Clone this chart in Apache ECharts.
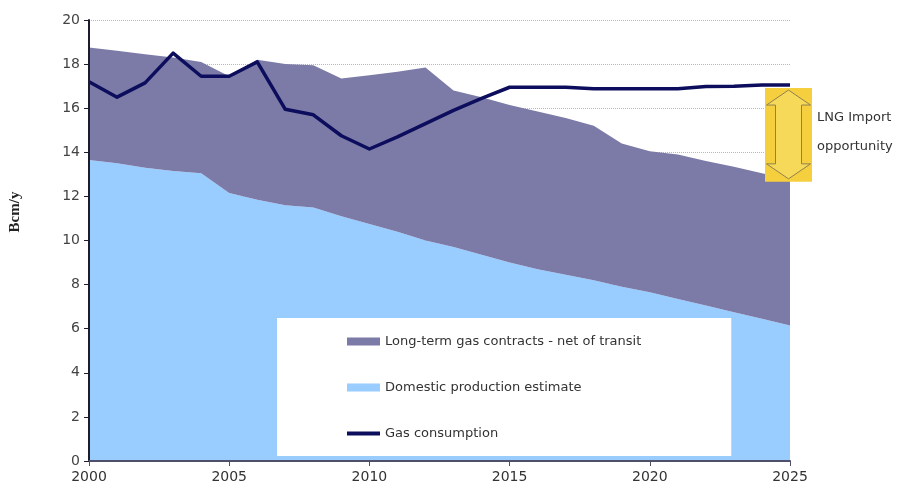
<!DOCTYPE html>
<html>
<head>
<meta charset="utf-8">
<style>
  html, body { margin: 0; padding: 0; background: #fff; }
  #chart { width: 898px; height: 498px; }
</style>
<script src="https://cdn.jsdelivr.net/npm/echarts@6/dist/echarts.min.js"></script>
</head>
<body>
<div id="chart"></div>
<script>
// Gas balance, Bcm per year
const years = ['2000', '2001', '2002', '2003', '2004', '2005', '2006', '2007', '2008', '2009', '2010', '2011', '2012',
               '2013', '2014', '2015', '2016', '2017', '2018', '2019', '2020', '2021', '2022', '2023', '2024', '2025'];

const domesticProduction = [13.65, 13.5, 13.3, 13.15, 13.05, 12.15, 11.85, 11.6, 11.5, 11.1, 10.75, 10.4, 10.0,
                            9.7, 9.35, 9.0, 8.7, 8.45, 8.2, 7.9, 7.65, 7.35, 7.05, 6.75, 6.45, 6.15];

// contracted volumes sitting on top of domestic production
const longTermContracts = [5.1, 5.1, 5.15, 5.15, 5.05, 5.3, 6.35, 6.4, 6.45, 6.25, 6.75, 7.25, 7.85,
                           7.1, 7.15, 7.15, 7.15, 7.1, 7.0, 6.5, 6.4, 6.55, 6.55, 6.6, 6.6, 6.6];

const gasConsumption = [17.2, 16.5, 17.15, 18.5, 17.45, 17.45, 18.1, 15.95, 15.7, 14.75, 14.15, 14.7, 15.3,
                        15.9, 16.45, 16.95, 16.95, 16.95, 16.88, 16.88, 16.88, 16.88, 16.98, 17.0, 17.05, 17.05];

const yearsPerTick = 5;
const yTickStep = 2;
const yMax = 20;

const seriesNames = {
  contracts: 'Long-term gas contracts - net of transit',
  domestic: 'Domestic production estimate',
  consumption: 'Gas consumption'
};

const colors = {
  contracts: '#7C7BA7',
  domestic: '#99CCFF',
  consumption: '#0D0D5E',
  lng: '#F5CF3E'
};

const chart = echarts.init(document.getElementById('chart'), null, { renderer: 'canvas' });

const baseFont = 'DejaVu Sans';
const axisDark = '#1c1c2c';

const valueAxisBase = {
  type: 'value',
  min: 0,
  max: yMax,
  interval: yTickStep
};

chart.setOption({
  animation: false,
  backgroundColor: '#fff',
  grid: { left: 89, right: 108, top: 20, bottom: 37, containLabel: false },
  xAxis: {
    type: 'category',
    data: years,
    boundaryGap: false,
    z: 10,
    axisLine: { show: true, lineStyle: { color: '#4d5068', width: 2 } },
    axisTick: { show: true, inside: false, length: 5, interval: yearsPerTick - 1, lineStyle: { color: '#4d5068', width: 1 } },
    axisLabel: {
      interval: yearsPerTick - 1,
      margin: 9,
      color: '#333',
      fontFamily: baseFont,
      fontSize: 14
    },
    splitLine: { show: false }
  },
  yAxis: [
    // grid lines sit beneath the filled areas
    Object.assign({}, valueAxisBase, {
      position: 'left',
      axisLine: { show: false },
      axisTick: { show: false },
      axisLabel: { show: false },
      splitLine: { show: true, lineStyle: { color: '#b8b8b8', type: 'dotted', width: 1 } }
    }),
    // axis line, ticks and labels drawn above them
    Object.assign({}, valueAxisBase, {
      position: 'left',
      z: 10,
      axisLine: { show: true, lineStyle: { color: axisDark, width: 2 } },
      axisTick: { show: true, inside: false, length: 5, lineStyle: { color: axisDark, width: 1 } },
      axisLabel: { margin: 9, color: '#444', fontFamily: baseFont, fontSize: 14 },
      splitLine: { show: false }
    })
  ],
  legend: {
    orient: 'vertical',
    left: 277,
    top: 318,
    backgroundColor: '#fff',
    padding: [17, 90, 16, 70],
    itemWidth: 33,
    itemHeight: 8,
    itemGap: 33,
    selectedMode: false,
    textStyle: { fontFamily: baseFont, fontSize: 13, color: '#333' },
    data: [
      { name: seriesNames.contracts, icon: 'rect', itemStyle: { color: colors.contracts, borderWidth: 0 } },
      { name: seriesNames.domestic, icon: 'rect', itemStyle: { color: colors.domestic, borderWidth: 0 } },
      { name: seriesNames.consumption, icon: 'path://M0,0H33V4H0Z', itemStyle: { color: colors.consumption, borderWidth: 0 } }
    ]
  },
  series: [
    {
      name: seriesNames.domestic,
      type: 'line',
      stack: 'supply',
      data: domesticProduction,
      showSymbol: false,
      symbol: 'none',
      itemStyle: { color: colors.domestic },
      lineStyle: { width: 0, color: colors.domestic },
      areaStyle: { color: colors.domestic, opacity: 1 },
      z: 2
    },
    {
      name: seriesNames.contracts,
      type: 'line',
      stack: 'supply',
      data: longTermContracts,
      showSymbol: false,
      symbol: 'none',
      itemStyle: { color: colors.contracts },
      lineStyle: { width: 0, color: colors.contracts },
      areaStyle: { color: colors.contracts, opacity: 1 },
      z: 2
    },
    {
      name: seriesNames.consumption,
      type: 'line',
      data: gasConsumption,
      showSymbol: false,
      symbol: 'none',
      itemStyle: { color: colors.consumption },
      lineStyle: { width: 3.5, color: colors.consumption, join: 'round' },
      z: 5
    }
  ]
});

// Supply gap at the end of the horizon: from total supply up to consumption
const last = years.length - 1;
const endYear = years[last];
const [xEnd, yDemand] = chart.convertToPixel({ gridIndex: 0 }, [endYear, gasConsumption[last]]);
const [, ySupply] = chart.convertToPixel({ gridIndex: 0 }, [endYear, domesticProduction[last] + longTermContracts[last]]);

const boxLeft = xEnd - 25;
const boxW = 47;
const boxTop = yDemand + 3;
const boxH = ySupply + 2 - boxTop;
const cx = boxW / 2;
const headH = 15;
const headHalf = 22;
const shaftHalf = 13;

chart.setOption({
  graphic: [
    {
      type: 'rect',
      z: 20,
      shape: { x: boxLeft, y: boxTop, width: boxW, height: boxH },
      style: { fill: colors.lng }
    },
    {
      type: 'polygon',
      z: 21,
      x: boxLeft,
      y: boxTop,
      shape: {
        points: [
          [cx, 2], [cx + headHalf, 2 + headH], [cx + shaftHalf, 2 + headH],
          [cx + shaftHalf, boxH - 3 - headH], [cx + headHalf, boxH - 3 - headH],
          [cx, boxH - 3], [cx - headHalf, boxH - 3 - headH], [cx - shaftHalf, boxH - 3 - headH],
          [cx - shaftHalf, 2 + headH], [cx - headHalf, 2 + headH]
        ]
      },
      style: { fill: '#F7D95A', stroke: '#8f8150', lineWidth: 1 }
    },
    {
      type: 'text',
      z: 21,
      x: boxLeft + boxW + 5,
      y: boxTop + 30,
      style: {
        text: 'LNG Import',
        font: '13px "DejaVu Sans"',
        fill: '#333',
        verticalAlign: 'middle',
        align: 'left'
      }
    },
    {
      type: 'text',
      z: 21,
      x: boxLeft + boxW + 5,
      y: boxTop + 59,
      style: {
        text: 'opportunity',
        font: '13px "DejaVu Sans"',
        fill: '#333',
        verticalAlign: 'middle',
        align: 'left'
      }
    },
    {
      type: 'text',
      z: 21,
      x: 15,
      y: 212,
      rotation: Math.PI / 2,
      style: {
        text: 'Bcm/y',
        font: 'bold 15px "Liberation Serif"',
        fill: '#222',
        verticalAlign: 'middle',
        align: 'center'
      }
    }
  ]
});
</script>
</body>
</html>
